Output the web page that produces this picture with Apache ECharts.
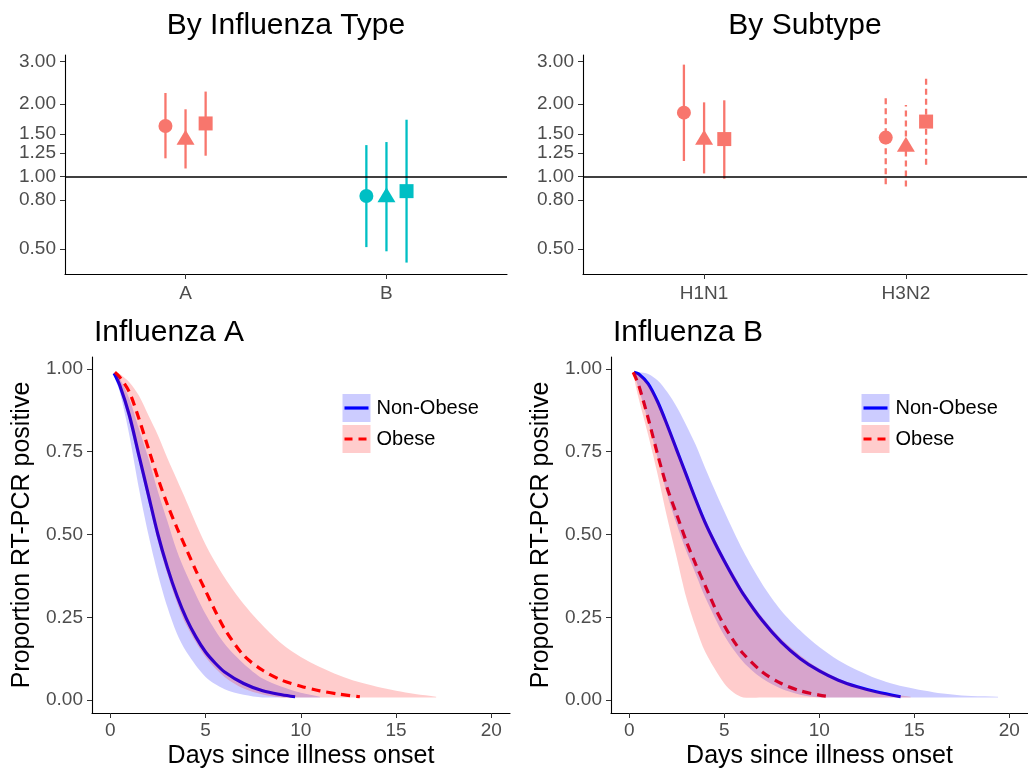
<!DOCTYPE html>
<html>
<head>
<meta charset="utf-8">
<title>RT-PCR positivity by obesity</title>
<script src="https://cdn.jsdelivr.net/npm/echarts@6/dist/echarts.min.js"></script>
<style>
  html, body { margin: 0; padding: 0; background: #fff; }
  #chart { width: 1028px; height: 770px; }
</style>
</head>
<body>
<div id="chart"></div>
<script>
// ratio estimates, each row is [estimate, lower, upper]
const typeCats = ['A', 'B'];
const typeCircle = [[1.62, 1.19, 2.22], [0.83, 0.51, 1.35]];
const typeTriangle = [[1.42, 1.08, 1.90], [0.82, 0.49, 1.39]];
const typeSquare = [[1.66, 1.22, 2.25], [0.87, 0.44, 1.72]];

const subCats = ['H1N1', 'H3N2'];
const subCircle = [[1.84, 1.16, 2.91], [1.45, 0.93, 2.13]];
const subTriangle = [[1.42, 1.03, 2.03], [1.33, 0.91, 1.98]];
const subSquare = [[1.43, 0.98, 2.07], [1.69, 1.12, 2.56]];

const ratioTicks = [0.5, 0.8, 1, 1.25, 1.5, 2, 3];
const propTicks = [0, 0.25, 0.5, 0.75, 1];
const dayTicks = [0, 5, 10, 15, 20];
const groupNames = ['Non-Obese', 'Obese'];

// Influenza A curves
const aNonObeseDays = [0.2, 0.5, 1, 1.5, 2, 2.5, 3, 3.5, 4, 4.5, 5, 5.5, 6, 7, 8, 9, 9.7];
const aNonObese = [0.987, 0.95, 0.86, 0.74, 0.62, 0.50, 0.40, 0.315, 0.245, 0.19, 0.145, 0.112, 0.085, 0.05, 0.028, 0.016, 0.01];
const aNonObeseBandDays = [0.2, 0.5, 1, 1.5, 2, 2.5, 3, 3.5, 4, 5, 6, 7, 8, 9, 10, 11];
const aNonObeseLow = [0.98, 0.93, 0.80, 0.64, 0.50, 0.38, 0.28, 0.20, 0.145, 0.07, 0.033, 0.016, 0.008, 0.008, 0.008, 0.008];
const aNonObeseHigh = [0.99, 0.97, 0.91, 0.82, 0.73, 0.63, 0.54, 0.45, 0.38, 0.26, 0.17, 0.11, 0.065, 0.04, 0.022, 0.01];

const aObeseDays = [0.24, 0.5, 1, 1.5, 2, 2.5, 3, 3.5, 4, 4.5, 5, 5.5, 6, 7, 8, 9, 10, 11, 12, 13.1];
const aObese = [0.99, 0.975, 0.93, 0.85, 0.76, 0.67, 0.59, 0.52, 0.455, 0.39, 0.33, 0.27, 0.215, 0.135, 0.09, 0.06, 0.042, 0.028, 0.018, 0.01];
const aObeseBandDays = [0.24, 0.5, 1, 1.5, 2, 2.5, 3, 3.5, 4, 5, 6, 7, 8, 9, 10, 11, 12, 13, 14, 15, 16, 17.1];
const aObeseLow = [0.985, 0.94, 0.84, 0.72, 0.60, 0.48, 0.38, 0.295, 0.225, 0.13, 0.07, 0.035, 0.017, 0.008, 0.008, 0.008, 0.008, 0.008, 0.008, 0.008, 0.008, 0.008];
const aObeseHigh = [0.99, 0.985, 0.96, 0.92, 0.86, 0.80, 0.73, 0.665, 0.60, 0.47, 0.37, 0.29, 0.225, 0.17, 0.13, 0.10, 0.075, 0.055, 0.04, 0.028, 0.018, 0.01];

// Influenza B curves
const bNonObeseDays = [0.25, 0.5, 1, 1.5, 2, 2.5, 3, 3.5, 4, 4.5, 5, 5.5, 6, 7, 8, 9, 10, 11, 12, 13, 14.28];
const bNonObese = [0.99, 0.985, 0.955, 0.90, 0.83, 0.755, 0.68, 0.605, 0.535, 0.475, 0.42, 0.368, 0.32, 0.24, 0.175, 0.125, 0.088, 0.06, 0.04, 0.025, 0.01];
const bNonObeseBandDays = [0.25, 0.5, 1, 1.5, 2, 2.5, 3, 3.5, 4, 5, 6, 7, 8, 9, 10, 11, 12, 13, 14, 15, 16, 17, 18, 19.4];
const bNonObeseLow = [0.985, 0.94, 0.84, 0.73, 0.62, 0.53, 0.45, 0.38, 0.31, 0.195, 0.115, 0.065, 0.034, 0.016, 0.008, 0.008, 0.008, 0.008, 0.008, 0.008, 0.008, 0.008, 0.008, 0.008];
const bNonObeseHigh = [0.99, 0.99, 0.985, 0.965, 0.93, 0.885, 0.83, 0.77, 0.70, 0.57, 0.45, 0.35, 0.27, 0.21, 0.16, 0.12, 0.09, 0.065, 0.047, 0.034, 0.024, 0.017, 0.012, 0.01];

const bObeseDays = [0.21, 0.5, 1, 1.5, 2, 2.5, 3, 3.5, 4, 4.5, 5, 5.5, 6, 7, 8, 9, 10, 10.56];
const bObese = [0.99, 0.95, 0.85, 0.74, 0.64, 0.56, 0.48, 0.41, 0.345, 0.28, 0.225, 0.178, 0.14, 0.085, 0.05, 0.028, 0.015, 0.01];
const bObeseBandDays = [0.21, 0.5, 1, 1.5, 2, 2.5, 3, 3.5, 4, 5, 5.5, 6, 7, 8, 9, 10, 11, 12, 13, 14, 14.8];
const bObeseLow = [0.985, 0.91, 0.80, 0.68, 0.55, 0.43, 0.31, 0.22, 0.145, 0.05, 0.022, 0.008, 0.008, 0.008, 0.008, 0.008, 0.008, 0.008, 0.008, 0.008, 0.008];
const bObeseHigh = [0.99, 0.985, 0.955, 0.905, 0.84, 0.765, 0.69, 0.615, 0.545, 0.43, 0.38, 0.33, 0.25, 0.185, 0.135, 0.095, 0.065, 0.043, 0.027, 0.015, 0.01];

const FONT = '"Liberation Sans", Arial, sans-serif';
const RED = '#F8766D';
const TEAL = '#00BFC4';

let chart = echarts.init(document.getElementById('chart'), null, { renderer: 'canvas' });

function axisLineStyle() {
  return { show: true, onZero: false, lineStyle: { color: '#000', width: 1.1 } };
}

function ratioYAxis(gi) {
  let ticks = ratioTicks.map(Math.log);
  return {
    type: 'value', gridIndex: gi, min: -0.93, max: 1.16,
    axisLine: axisLineStyle(),
    axisTick: { show: true, length: 5, customValues: ticks, lineStyle: { color: '#333' } },
    axisLabel: { customValues: ticks, margin: 9, color: '#4D4D4D', fontSize: 19, fontFamily: FONT,
      formatter: (v) => Math.exp(v).toFixed(2) },
    splitLine: { show: false }
  };
}

function catXAxis(gi, cats) {
  return {
    type: 'value', gridIndex: gi, min: 0.4, max: 2.6,
    axisLine: axisLineStyle(),
    axisTick: { show: true, length: 5, customValues: [1, 2], lineStyle: { color: '#333' } },
    axisLabel: { customValues: [1, 2], margin: 10, color: '#4D4D4D', fontSize: 19, fontFamily: FONT,
      formatter: (v) => cats[Math.round(v) - 1] },
    splitLine: { show: false }
  };
}

function propYAxis(gi) {
  return {
    type: 'value', gridIndex: gi, min: -0.039, max: 1.036,
    name: 'Proportion RT-PCR positive', nameLocation: 'middle', nameGap: 57,
    nameTextStyle: { fontSize: 25, color: '#000', fontFamily: FONT },
    axisLine: axisLineStyle(),
    axisTick: { show: true, length: 5, customValues: propTicks, lineStyle: { color: '#333' } },
    axisLabel: { customValues: propTicks, margin: 9, color: '#4D4D4D', fontSize: 19, fontFamily: FONT,
      formatter: (v) => v.toFixed(2) },
    splitLine: { show: false }
  };
}

function dayXAxis(gi) {
  return {
    type: 'value', gridIndex: gi, min: -0.96, max: 20.98,
    name: 'Days since illness onset', nameLocation: 'middle', nameGap: 31,
    nameTextStyle: { fontSize: 25, color: '#000', fontFamily: FONT },
    axisLine: axisLineStyle(),
    axisTick: { show: true, length: 5, customValues: dayTicks, lineStyle: { color: '#333' } },
    axisLabel: { customValues: dayTicks, margin: 8, color: '#4D4D4D', fontSize: 19, fontFamily: FONT,
      formatter: (v) => String(v) },
    splitLine: { show: false }
  };
}

// error bars + points for one ratio panel
function ratioSeries(gi, shapes, colors, dashed) {
  let offsets = [-0.1, 0, 0.1];
  let symbols = ['circle', 'triangle', 'rect'];
  let sizes = [14, [18, 15], 14];
  let symOffsets = [[0, 0], [0, -2.5], [0, 0]];
  let bars = [];
  let out = [];
  shapes.forEach((rows, s) => {
    rows.forEach((r, g) => {
      bars.push([g + 1 + offsets[s], Math.log(r[1]), Math.log(r[2]), g]);
    });
  });
  out.push({
    type: 'custom', xAxisIndex: gi, yAxisIndex: gi, silent: true, z: 3,
    data: bars, encode: { x: 0, y: [1, 2] },
    renderItem: (params, api) => {
      let lo = api.coord([api.value(0), api.value(1)]);
      let hi = api.coord([api.value(0), api.value(2)]);
      let g = api.value(3);
      return {
        type: 'line',
        shape: { x1: lo[0], y1: lo[1], x2: hi[0], y2: hi[1] },
        style: { stroke: colors[g], lineWidth: 2.3, lineDash: dashed[g] ? [6, 4] : null }
      };
    }
  });
  shapes.forEach((rows, s) => {
    let ser = {
      type: 'scatter', xAxisIndex: gi, yAxisIndex: gi, silent: true, z: 4,
      symbol: symbols[s], symbolSize: sizes[s], symbolOffset: symOffsets[s],
      data: rows.map((r, g) => [g + 1 + offsets[s], Math.log(r[0]), g]),
      itemStyle: { color: (p) => colors[p.data[2]], opacity: 1 }
    };
    if (s === 0) {
      ser.markLine = {
        silent: true, symbol: 'none', label: { show: false },
        lineStyle: { color: '#000', width: 1.5, type: 'solid' },
        data: [{ yAxis: 0 }]
      };
    }
    out.push(ser);
  });
  return out;
}

function ribbon(gi, days, lo, hi, fill) {
  return {
    type: 'custom', xAxisIndex: gi, yAxisIndex: gi, silent: true, z: 3,
    data: days.map((d, i) => [d, lo[i], hi[i]]), encode: { x: 0, y: [1, 2] },
    renderItem: (params, api) => {
      if (params.dataIndex !== 0) return null;
      let pts = [];
      for (let i = 0; i < days.length; i++) pts.push(api.coord([days[i], hi[i]]));
      for (let i = days.length - 1; i >= 0; i--) pts.push(api.coord([days[i], lo[i]]));
      return { type: 'polygon', shape: { points: pts, smooth: 0.3 }, style: { fill: fill } };
    }
  };
}

function curve(gi, name, days, vals, color, dash) {
  return {
    type: 'line', name: name, xAxisIndex: gi, yAxisIndex: gi, z: 2,
    symbol: 'none', smooth: 0.3, silent: true,
    data: days.map((d, i) => [d, vals[i]]),
    lineStyle: { color: color, width: 3.2, type: dash ? [9, 6] : 'solid' },
    itemStyle: { color: color }
  };
}

// legend keys: fill box of the band with the line drawn across it
function legendKeys(left) {
  let fills = ['#CCCCFF', '#FFCCCC'];
  let strokes = ['#0000FF', '#FF0000'];
  let children = [];
  groupNames.forEach((name, i) => {
    let y = i * 31;
    children.push({ type: 'rect', shape: { x: 0, y: y, width: 28, height: 28 }, style: { fill: fills[i] } });
    children.push({ type: 'line', shape: { x1: 2, y1: y + 14, x2: 26, y2: y + 14 },
      style: { stroke: strokes[i], lineWidth: 3.2, lineDash: i === 1 ? [8, 6] : null } });
    children.push({ type: 'text', x: 34, y: y + 14,
      style: { text: name, font: '20px ' + FONT, fill: '#000', verticalAlign: 'middle', textVerticalAlign: 'middle' } });
  });
  return { type: 'group', left: left, top: 394, children: children };
}

let titleStyle = { fontSize: 30, fontWeight: 'normal', color: '#000', fontFamily: FONT };

let option = {
  animation: false,
  textStyle: { fontFamily: FONT },
  title: [
    { text: 'By Influenza Type', left: 286, top: 11, textAlign: 'center', padding: 0, textStyle: titleStyle },
    { text: 'By Subtype', left: 805, top: 11, textAlign: 'center', padding: 0, textStyle: titleStyle },
    { text: 'Influenza A', left: 94, top: 318, padding: 0, textStyle: titleStyle },
    { text: 'Influenza B', left: 613, top: 318, padding: 0, textStyle: titleStyle }
  ],
  grid: [
    { left: 65, top: 55, width: 442, height: 219 },
    { left: 583, top: 55, width: 444, height: 219 },
    { left: 92, top: 357, width: 418, height: 357 },
    { left: 611, top: 357, width: 417, height: 357 }
  ],
  xAxis: [catXAxis(0, typeCats), catXAxis(1, subCats), dayXAxis(2), dayXAxis(3)],
  yAxis: [ratioYAxis(0), ratioYAxis(1), propYAxis(2), propYAxis(3)],
  graphic: [legendKeys(342), legendKeys(861)],
  series: [].concat(
    ratioSeries(0, [typeCircle, typeTriangle, typeSquare], [RED, TEAL], [false, false]),
    ratioSeries(1, [subCircle, subTriangle, subSquare], [RED, RED], [false, true]),
    [
      curve(2, 'Non-Obese', aNonObeseDays, aNonObese, '#0000FF', false),
      curve(2, 'Obese', aObeseDays, aObese, '#FF0000', true),
      ribbon(2, aNonObeseBandDays, aNonObeseLow, aNonObeseHigh, 'rgba(0,0,255,0.2)'),
      ribbon(2, aObeseBandDays, aObeseLow, aObeseHigh, 'rgba(255,0,0,0.2)'),
      curve(3, 'Non-Obese', bNonObeseDays, bNonObese, '#0000FF', false),
      curve(3, 'Obese', bObeseDays, bObese, '#FF0000', true),
      ribbon(3, bNonObeseBandDays, bNonObeseLow, bNonObeseHigh, 'rgba(0,0,255,0.2)'),
      ribbon(3, bObeseBandDays, bObeseLow, bObeseHigh, 'rgba(255,0,0,0.2)')
    ]
  )
};

chart.setOption(option);
</script>
</body>
</html>
